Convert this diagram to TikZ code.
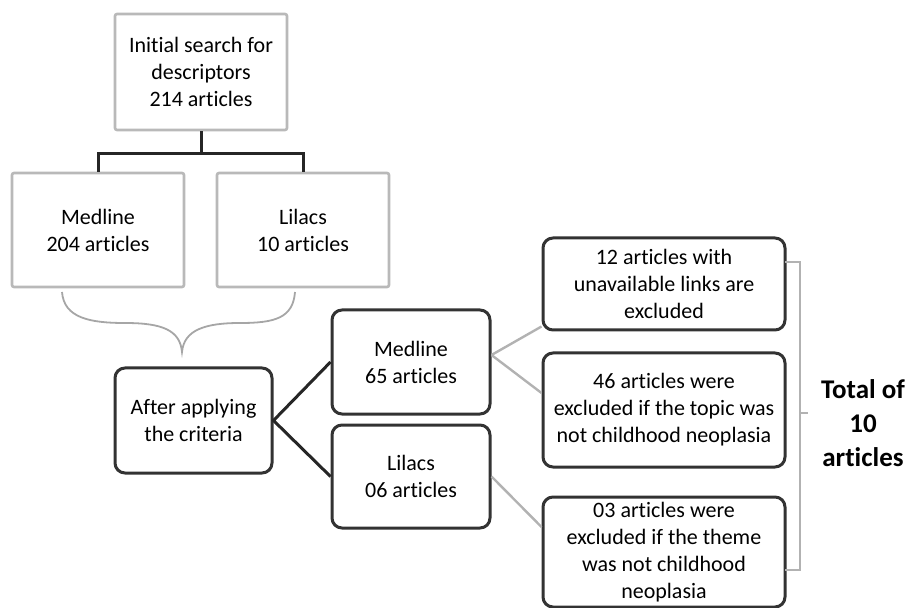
\documentclass[tikz,border=0pt]{standalone}
\usepackage{fontspec}
\setmainfont{Carlito}[Ligatures=NoCommon]
\begin{document}
\begin{tikzpicture}[x=0.5pt,y=-0.5pt,
    txt/.style={align=center,inner sep=1pt,font=\fontsize{11}{13.5}\selectfont},
    graybox/.style={txt,draw=gray!55,line width=1.3pt,rounded corners=1pt},
    roundbox/.style={txt,draw=black!80,line width=1.5pt,rounded corners=5pt},
    darkline/.style={draw=black!85,line width=1.5pt},
    grayline/.style={draw=gray!60,line width=1.2pt}]
  \useasboundingbox (0,0) rectangle (908,608);

  % search
  \node[graybox,minimum width=86pt,minimum height=58pt] (init) at (201,72) {Initial search for\\descriptors\\214 articles};
  \node[graybox,minimum width=86pt,minimum height=57pt] (med) at (98,230) {Medline\\204 articles};
  \node[graybox,minimum width=86pt,minimum height=57pt] (lil) at (303,230) {Lilacs\\10 articles};

  % selection
  \node[roundbox,minimum width=78.5pt,minimum height=52.5pt] (after) at (193.5,420.5) {After applying\\the criteria};
  \node[roundbox,minimum width=79pt,minimum height=52pt] (medsel) at (411,362) {Medline\\65 articles};
  \node[roundbox,minimum width=79pt,minimum height=51.5pt] (lilsel) at (411,476.5) {Lilacs\\06 articles};

  % exclusions
  \node[roundbox,minimum width=121pt,minimum height=46pt] (exa) at (664,284) {12 articles with\\unavailable links are\\excluded};
  \node[roundbox,minimum width=121pt,minimum height=57pt] (exb) at (664,410) {46 articles were\\excluded if the topic was\\not childhood neoplasia};
  \node[roundbox,minimum width=121pt,minimum height=55pt] (exc) at (664,552) {03 articles were\\excluded if the theme\\was not childhood\\neoplasia};

  \node[align=center,font=\bfseries\fontsize{13.5}{17}\selectfont] (total) at (863,423) {Total of\\10\\articles};

  % tree
  \draw[darkline] (init.south) -- ++(0,22) coordinate (fork);
  \draw[darkline] (med.north) |- (fork) -| (lil.north);

  % brace
  \coordinate (bl) at (62,292);
  \coordinate (br) at (295,292);
  \coordinate (tip) at (182,352);
  \draw[gray!70,line width=0.9pt] (bl) .. controls (64,318) and (90,323) .. (125,323)
    .. controls (162,323) and (180,330) .. (tip)
    .. controls (184,330) and (205,323) .. (240,323)
    .. controls (275,323) and (293,318) .. (br);

  \draw[darkline] (medsel.west) -- (after.east) -- (lilsel.west);
  \draw[grayline] ([yshift=3.5pt]medsel.east) -- ([yshift=2.5pt]exa.south west);
  \draw[grayline] ([yshift=3.5pt]medsel.east) -- ([yshift=8.5pt]exb.west);
  \draw[grayline] (lilsel.east) -- ([yshift=12.5pt]exc.west);

  % bracket
  \coordinate (bt) at (785,262);
  \coordinate (bb) at (785,570);
  \coordinate (bm) at (808,413);
  \draw[grayline] (bt) -- (800,262) -- (800,570) -- (bb);
  \draw[grayline] (800,413) -- (bm);
\end{tikzpicture}
\end{document}
